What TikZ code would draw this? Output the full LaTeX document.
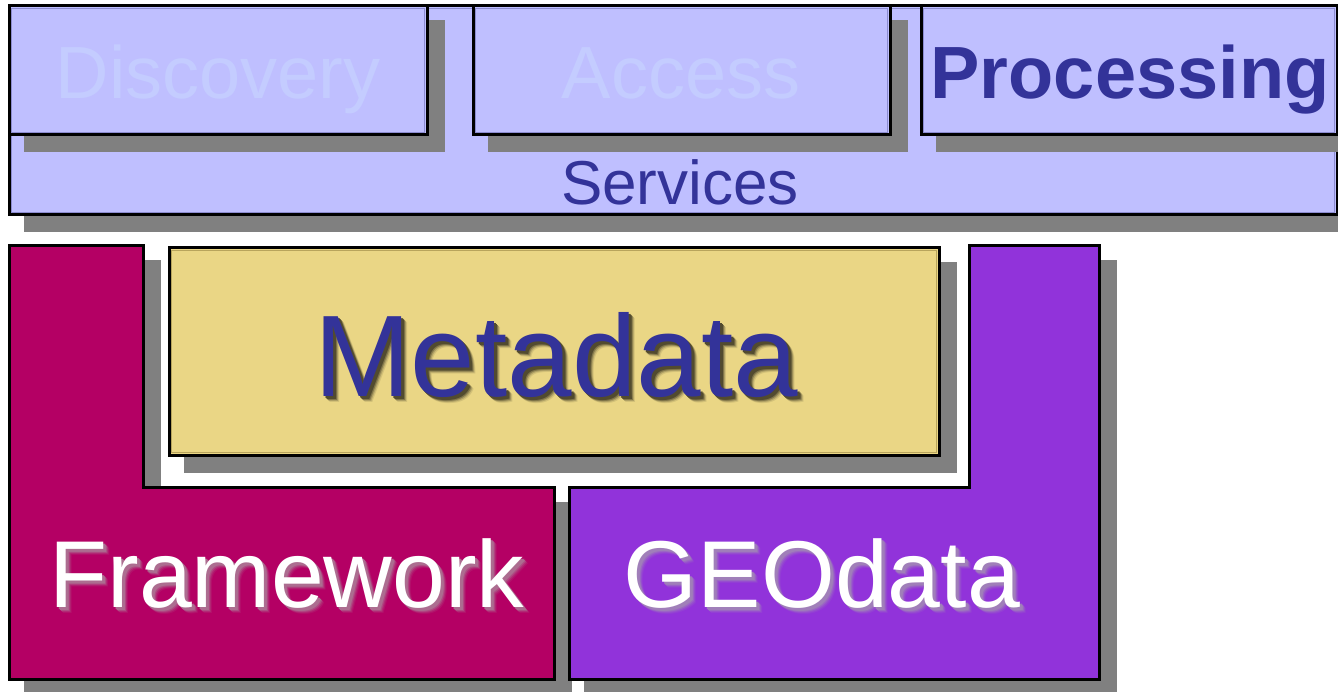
\documentclass[tikz,border=0pt]{standalone}
\usepackage{fontspec}
\setmainfont{Liberation Sans}

\definecolor{lav}{HTML}{BFBFFF}
\definecolor{lavline}{HTML}{8C8CD0}
\definecolor{lavtext}{HTML}{C4CCFF}
\definecolor{navy}{HTML}{333399}
\definecolor{shade}{HTML}{808080}
\definecolor{framecol}{HTML}{B40064}
\definecolor{geocol}{HTML}{9133DA}
\definecolor{metacol}{HTML}{EAD685}
\definecolor{metaline}{HTML}{B8A45C}
\definecolor{glow}{HTML}{A8A8A8}

% text with a soft drop shadow: #1 background, #2 shadow colour, #3 text
\newcommand\softlabel[3]{%
  \rlap{\kern6pt\raisebox{-6pt}{\color{#2!10!#1}#3}}%
  \rlap{\kern5pt\raisebox{-5pt}{\color{#2!25!#1}#3}}%
  \rlap{\kern4pt\raisebox{-4pt}{\color{#2!45!#1}#3}}%
  \rlap{\kern3pt\raisebox{-3pt}{\color{#2!65!#1}#3}}%
  \rlap{\kern2pt\raisebox{-2pt}{\color{#2!65!#1}#3}}%
  #3}

\tikzset{
  panel/.style={draw=black, line width=3pt, line join=miter},
  drop/.style={fill=shade, draw=shade, line width=3pt, shift={(16,16)}},
  lbl/.style={anchor=base, inner sep=0pt, outer sep=0pt},
  fsmall/.style={font=\fontsize{74}{80}\selectfont},
  fserv/.style={font=\fontsize{62}{68}\selectfont},
  fbig/.style={font=\fontsize{116}{124}\selectfont},
  fmid/.style={font=\fontsize{95}{100}\selectfont},
}

\begin{document}
\begin{tikzpicture}[x=1pt,y=-1pt]
\useasboundingbox (0,0) rectangle (1338,692);

% ---------- services layer ----------
\path[drop] (9,6) rectangle (1337,215);
\path[panel, fill=lav] (9,6) rectangle (1337,215);
\draw[lavline, line width=1pt] (11.5,8.5) rectangle (1334.5,212.5);

\path[drop] (9,6) rectangle (427,135);
\path[drop] (473,6) rectangle (890,135);
\path[drop] (921,6) rectangle (1337,135);

\path[panel, fill=lav] (9,6) rectangle (427,135);
\draw[lavline, line width=1pt] (11.5,8.5) rectangle (424.5,132.5);
\path[panel, fill=lav] (473,6) rectangle (890,135);
\draw[lavline, line width=1pt] (475.5,8.5) rectangle (887.5,132.5);
\path[panel, fill=lav] (921,6) rectangle (1337,135);
\draw[lavline, line width=1pt] (923.5,8.5) rectangle (1334.5,132.5);

\node[lbl, fsmall, text=lavtext] (disc) at (218,99) {Discovery};
\node[lbl, fsmall, text=lavtext] (acc) at (681,99) {Access};
\node[lbl, text=navy, font=\fontsize{74}{80}\selectfont\bfseries] (proc) at (1130,99) {Processing};
\node[lbl, fserv, text=navy] (serv) at (680,205) {Services};

% ---------- data layer: shadows ----------
\path[drop] (9,246) -- (143,246) -- (143,487) -- (554,487) -- (554,679) -- (9,679) -- cycle;
\path[drop] (169,248) rectangle (939,455);
\path[drop] (969,246) -- (1099,246) -- (1099,679) -- (569,679) -- (569,487) -- (969,487) -- cycle;

% ---------- data layer: panels ----------
\path[panel, fill=framecol] (9,246) -- (143,246) -- (143,487) -- (554,487) -- (554,679) -- (9,679) -- cycle;
\path[panel, fill=metacol] (169,248) rectangle (939,455);
\draw[metaline, line width=1pt] (171.5,250.5) rectangle (936.5,452.5);
\path[panel, fill=geocol] (969,246) -- (1099,246) -- (1099,679) -- (569,679) -- (569,487) -- (969,487) -- cycle;

% ---------- labels with soft drop shadows ----------
\node[lbl, fbig, text=navy] (meta) at (556,396) {\softlabel{metacol}{black}{Metadata}};
\node[lbl, fmid, text=white] (frame) at (287,607) {\softlabel{framecol}{glow}{Framework}};
\node[lbl, fmid, text=white] (geo) at (822,607) {\softlabel{geocol}{glow}{GEOdata}};
\end{tikzpicture}
\end{document}
